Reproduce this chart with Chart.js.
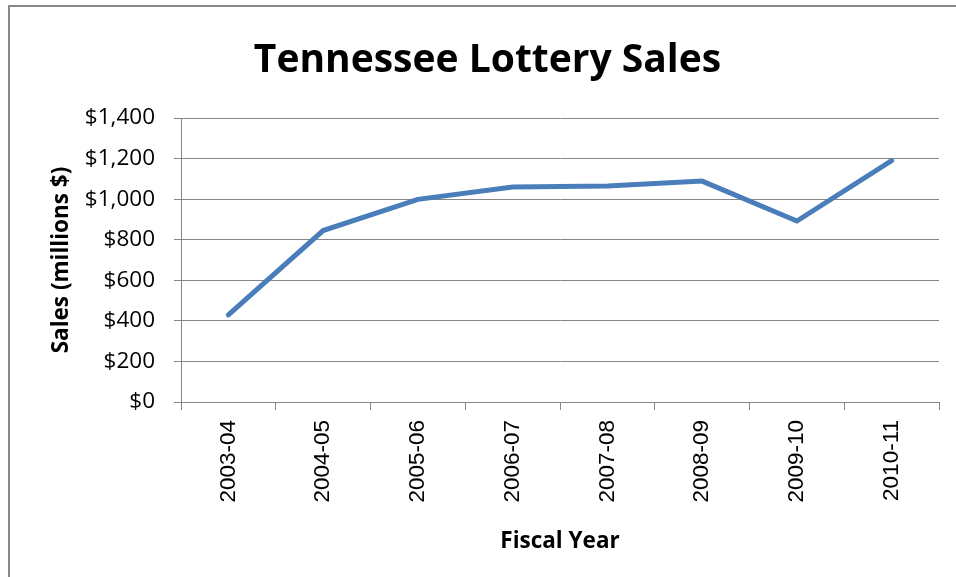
<!DOCTYPE html>
<html>
<head>
<meta charset="utf-8">
<script src="https://cdn.jsdelivr.net/npm/chart.js@4"></script>
<style>
  body { margin: 0; background: #fff; }
  #wrap { position: relative; width: 956px; height: 577px; overflow: hidden; }
  #frame { position: absolute; left: 8px; top: 5px; width: 960px; height: 600px;
           border-left: 2px solid #888; border-top: 2px solid #888; }
  canvas { position: absolute; left: 0; top: 0; }
</style>
</head>
<body>
<div id="wrap">
  <div id="frame"></div>
  <canvas id="salesChart" width="956" height="577"></canvas>
</div>
<script>
  // Data
  const fiscalYears = ['2003-04', '2004-05', '2005-06', '2006-07', '2007-08', '2008-09', '2009-10', '2010-11'];
  const sales = [429, 845, 999, 1060, 1065, 1089, 892, 1190];
  const yMin = 0;
  const yMax = 1400;
  const yStep = 200;

  const gridGray = '#868686';

  const ctx = document.getElementById('salesChart').getContext('2d');
  new Chart(ctx, {
      type: 'line',
      data: {
          labels: fiscalYears,
          datasets: [{
              label: 'Sales',
              data: sales,
              borderColor: '#4a7ebb',
              borderWidth: 5,
              borderCapStyle: 'round',
              pointRadius: 0,
              tension: 0,
              fill: false
          }]
      },
      options: {
          responsive: false,
          animation: false,
          layout: {
              // left padding shifts the title centre to match the original
              padding: { left: 36, right: 17, top: 0, bottom: 0 }
          },
          plugins: {
              legend: { display: false },
              tooltip: { enabled: false },
              title: {
                  display: true,
                  text: 'Tennessee Lottery Sales',
                  color: '#000',
                  font: { family: 'Open Sans', size: 39, weight: 'bold', lineHeight: 1.2 },
                  padding: { top: 37, bottom: 34.2 }
              }
          },
          scales: {
              x: {
                  offset: true,
                  grid: {
                      offset: true,
                      drawOnChartArea: false,
                      drawTicks: true,
                      tickLength: 8,
                      color: gridGray,
                      lineWidth: 1
                  },
                  border: { display: true, color: gridGray, width: 1 },
                  ticks: {
                      color: '#000',
                      font: { family: 'Liberation Sans', size: 22.5 },
                      minRotation: 90,
                      maxRotation: 90,
                      padding: 10,
                      autoSkip: false
                  },
                  title: {
                      display: true,
                      text: 'Fiscal Year',
                      color: '#000',
                      font: { family: 'Open Sans', size: 22.5, weight: 'bold', lineHeight: 1.2 },
                      padding: { top: 0, bottom: 21.5 }
                  },
                  afterFit: function(scale) { scale.height = 175; }
              },
              y: {
                  min: yMin,
                  max: yMax,
                  grid: {
                      drawTicks: true,
                      tickLength: 7,
                      color: gridGray,
                      lineWidth: 1
                  },
                  border: { display: true, color: gridGray, width: 1 },
                  ticks: {
                      stepSize: yStep,
                      color: '#000',
                      font: { family: 'Open Sans', size: 22.5 },
                      padding: 19,
                      callback: function(value) { return '$' + value.toLocaleString('en-US'); }
                  },
                  title: {
                      display: true,
                      text: 'Sales (millions $)',
                      color: '#000',
                      font: { family: 'Open Sans', size: 22.5, weight: 'bold', lineHeight: 1.2 },
                      padding: { top: 12.5, bottom: 0 }
                  },
                  afterFit: function(scale) { scale.width = 145; }
              }
          }
      }
  });
</script>
</body>
</html>
